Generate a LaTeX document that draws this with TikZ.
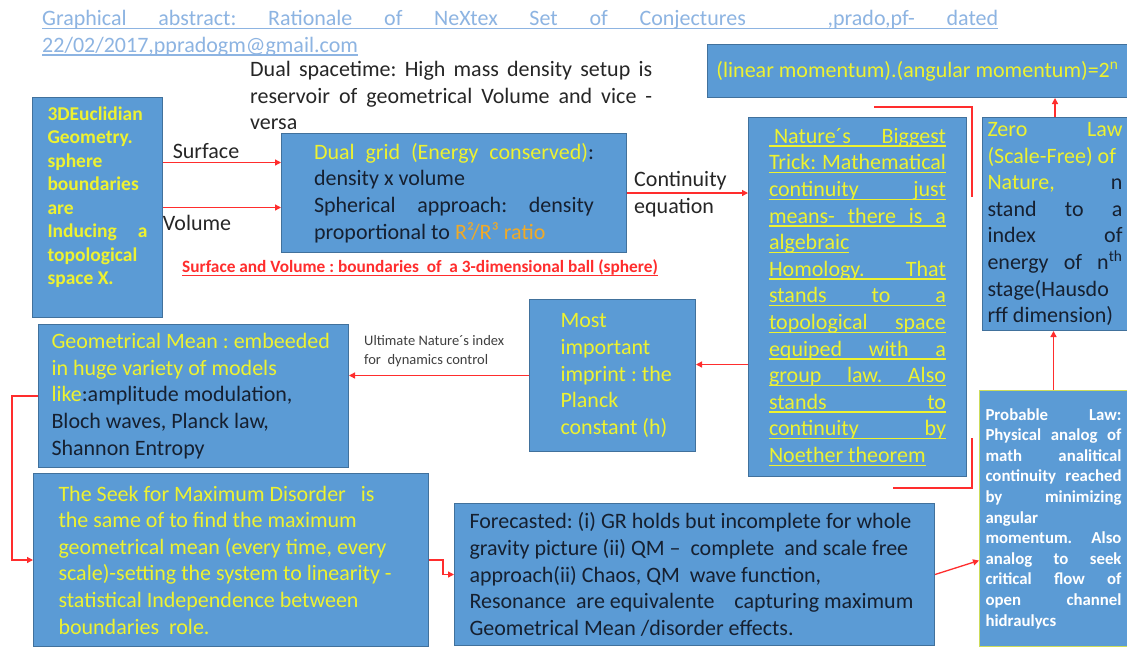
\documentclass[tikz,border=0pt]{standalone}
\usepackage{fontspec}
\setmainfont{Carlito}
\usetikzlibrary{arrows.meta,positioning}
\definecolor{bx}{RGB}{91,155,213}
\definecolor{bxl}{RGB}{65,113,156}
\definecolor{ye}{RGB}{238,242,48}
\definecolor{dk}{RGB}{22,32,48}
\definecolor{og}{RGB}{240,170,40}
\definecolor{rd}{RGB}{255,45,45}
\definecolor{tb}{RGB}{141,180,226}
\definecolor{gl}{RGB}{205,220,90}
\frenchspacing
\newcommand\jl[1]{\makebox[\linewidth][s]{#1}}
\newcommand\undl[1]{\leavevmode\setbox0\hbox{#1}\rlap{\rule[-3.5pt]{\wd0}{1.3pt}}\box0}
\tikzset{
    SP/.style ={execute at begin node={\spaceskip=0pt\xspaceskip=0pt\hyphenpenalty=10000\exhyphenpenalty=10000}},
    BX/.style ={rectangle,draw=bxl,fill=bx,line width=1pt,anchor=north west,inner sep=0pt,align=left,SP},
    F22/.style ={font=\fontsize{22}{26.6}\selectfont},
    AR/.style ={draw=rd,line width=1.3pt,-{Triangle[length=6pt,width=6pt]}},
    LN/.style ={draw=rd,line width=1.3pt},
    LB/.style ={inner sep=0pt,text=black!85,SP}}

\begin{document}
\begin{tikzpicture}[x=1pt,y=-1pt]
    \fill[white] (0,0) rectangle (1127,646);
    \useasboundingbox (0,0) rectangle (1127,646);
    \node[LB,F22,anchor=north west,text width=956pt,align=left,text=tb] (H) at (42,10)
        {\undl{\jl{Graphical abstract: Rationale of NeXtex Set of Conjectures\hspace{50pt} ,prado,pf- dated}}\\
        \undl{22/02/2017,ppradogm@gmail.com}};
    \node[LB,F22,anchor=north west,text width=402pt,align=left] (D) at (250,61)
        {\jl{Dual spacetime: High mass density setup is}\\\jl{reservoir of geometrical Volume and vice -}\\versa};
    \node[BX,minimum width=130pt,minimum height=220pt,text width=100pt,text=ye,
        font=\bfseries\fontsize{19.5}{23.5}\selectfont] (A) at (32,97)
        {3DEuclidian\\Geometry.\\sphere\\boundaries\\are\\\jl{Inducing a}\\topological\\space X.\\\mbox{}};
    \node[BX,F22,minimum width=345pt,minimum height=119pt,text width=280pt,text=dk] (B) at (281,133)
        {\jl{\color{ye}Dual grid (Energy conserved)\color{dk}:}\\density x volume\\
        \jl{Spherical approach: density}\\proportional to {\color{og}R²/R³ ratio}};
    \node[BX,F22,minimum width=420pt,minimum height=53pt,text=ye,align=center] (T) at (707,44)
        {(linear momentum).(angular momentum)=2\textsuperscript{n}};
    \node[BX,F22,minimum width=218pt,minimum height=359pt,text width=177pt,text=ye] (N) at (748,117)
        {\undl{\jl{\hspace{5pt}Nature´s Biggest}}\\\undl{\jl{Trick: Mathematical}}\\
        \undl{\jl{continuity just}}\\\undl{\jl{means- there is a}}\\\undl{algebraic}\\
        \undl{\jl{Homology. That}}\\\undl{\jl{stands to a}}\\\undl{\jl{topological space}}\\
        \undl{\jl{equiped with a}}\\\undl{\jl{group law. Also}}\\\undl{\jl{stands to}}\\
        \undl{\jl{continuity by}}\\\undl{Noether theorem}};
    \node[BX,F22,minimum width=145pt,minimum height=213pt,text width=135pt,text=dk] (Z) at (982,117)
        {\jl{\color{ye}Zero Law}\\{\color{ye}(Scale-Free) of}\\\jl{\color{ye}Nature, \color{dk}n}\\
        \jl{stand to a}\\\jl{index of}\\\jl{energy of n\textsuperscript{th}}\\stage(Hausdo\\rff dimension)};
    \node[BX,draw=gl,minimum width=148pt,minimum height=256pt,text width=136pt,text=white,
        font=\bfseries\fontsize{16.8}{20.6}\selectfont] (P) at (979,390)
        {\jl{Probable Law:}\\\jl{Physical analog of}\\\jl{math analitical}\\\jl{continuity reached}\\
        \jl{by minimizing}\\angular\\\jl{momentum. Also}\\\jl{analog to seek}\\\jl{critical flow of}\\
        \jl{open channel}\\hidraulycs};
    \node[BX,F22,minimum width=166pt,minimum height=152pt,text width=104pt,text=ye] (M) at (529,299)
        {Most\\important\\\mbox{imprint : the}\\Planck\\\mbox{constant (h)}};
    \node[BX,F22,minimum width=310pt,minimum height=143pt,text width=284pt,text=dk] (G) at (38,324)
        {{\color{ye}Geometrical Mean : embeeded}\\{\color{ye}in huge variety of models}\\
        {\color{ye}like}:amplitude modulation,\\Bloch waves, Planck law,\\Shannon Entropy};
    \node[BX,F22,minimum width=395pt,minimum height=173pt,text width=345pt,text=ye] (S) at (33,473)
        {The Seek for Maximum Disorder\hspace{10pt} is\\the same of to find the maximum\\
        geometrical mean (every time, every\\scale)-setting the system to linearity -\\
        statistical Independence between\\boundaries\ \ role.};
    \node[BX,F22,minimum width=480pt,minimum height=142pt,text width=450pt,text=dk] (F) at (454,503)
        {Forecasted: (i) GR holds but incomplete for whole\\gravity picture (ii) QM --\ \ complete\ \ and scale free\\
        approach(ii) Chaos, QM\ \ wave function,\\Resonance\ \ are equivalente\ \ \ \ capturing maximum\\
        Geometrical Mean /disorder effects.};
    \node[LB,F22] (su) at (206,151) {Surface};
    \node[LB,F22] (vo) at (197,223) {Volume};
    \node[LB,F22,anchor=west,align=left] (ce) at (634,194) {Continuity\\equation};
    \node[LB,text=rd,font=\bfseries\fontsize{17.3}{20}\selectfont] (sv) at (420,268)
        {\undl{Surface and Volume : boundaries\ \ of\ \ a 3-dimensional ball (sphere)}};
    \node[LB,anchor=west,align=left,text=black!75,font=\fontsize{14.5}{19}\selectfont] (ul) at (364,351)
        {Ultimate Nature´s index\\for\ \ dynamics control};
    \coordinate (s1) at ([yshift=45pt]A.east);
    \coordinate (m1) at ([yshift=11pt]M.east);
    \coordinate (p1) at ([yshift=-42pt]P.west);
    \draw[AR] (s1) -- (s1 -| B.west);
    \draw[AR] (A.east) -- (A.east -| B.west);
    \draw[AR] (B.east) -- (B.east -| N.west);
    \draw[AR] (Z.north) -- (Z.north |- T.south);
    \draw[AR] (P.north) -- (P.north |- Z.south);
    \draw[AR] (N.west |- m1) -- (m1);
    \draw[AR] (M.west) -- (M.west -| G.east);
    \draw[AR] (G.west) -- ++(-26,0) |- (S.west);
    \draw[AR] (S.east) -- ++(14,0) |- (F.west);
    \draw[AR] (F.east) -- (p1);
    \coordinate (r1) at (874,107);
    \coordinate (r2) at (972,107);
    \coordinate (r3) at (972,197);
    \coordinate (r4) at (972,438);
    \coordinate (r5) at (972,488);
    \coordinate (r6) at (893,488);
    \draw[LN] (r1) -- (r2) -- (r3);
    \draw[LN] (r4) -- (r5) -- (r6);
\end{tikzpicture}
\end{document}
